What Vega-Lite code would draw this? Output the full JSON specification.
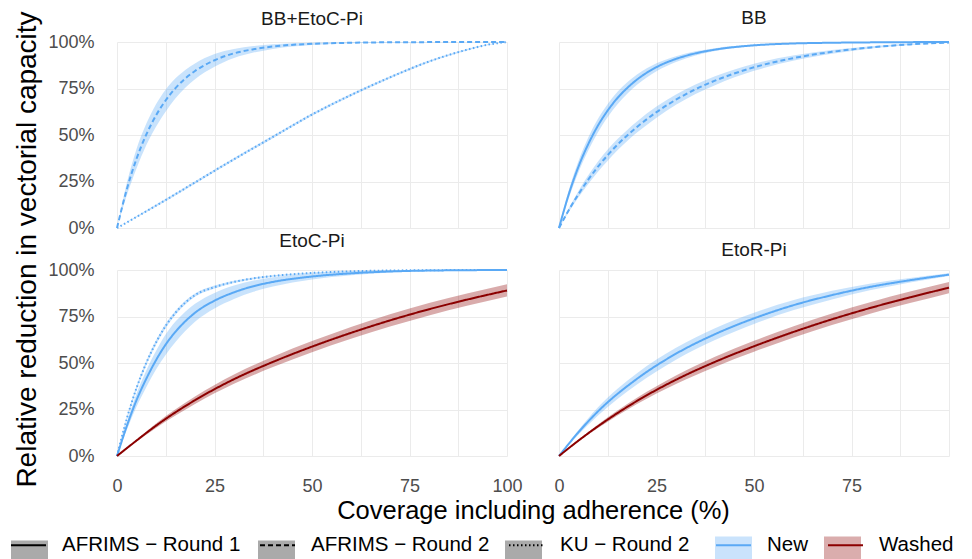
{
  "$schema": "https://vega.github.io/schema/vega-lite/v6.json",
  "padding": {"left": 10, "top": 9, "right": 22, "bottom": 0},
  "datasets": {
    "curves": [
      {"panel":"BB+EtoC-Pi","source":"AFRIMS − Round 2","wash":"New","x":0,"y":0,"lo":0,"hi":0},
      {"panel":"BB+EtoC-Pi","source":"AFRIMS − Round 2","wash":"New","x":2.5,"y":20.7,"lo":17.5,"hi":24},
      {"panel":"BB+EtoC-Pi","source":"AFRIMS − Round 2","wash":"New","x":5,"y":37.2,"lo":32,"hi":42.5},
      {"panel":"BB+EtoC-Pi","source":"AFRIMS − Round 2","wash":"New","x":7.5,"y":50.2,"lo":44.5,"hi":56},
      {"panel":"BB+EtoC-Pi","source":"AFRIMS − Round 2","wash":"New","x":10,"y":60.5,"lo":54.5,"hi":66.5},
      {"panel":"BB+EtoC-Pi","source":"AFRIMS − Round 2","wash":"New","x":12.5,"y":68.7,"lo":62.7,"hi":74.5},
      {"panel":"BB+EtoC-Pi","source":"AFRIMS − Round 2","wash":"New","x":15,"y":75.2,"lo":69.7,"hi":80.5},
      {"panel":"BB+EtoC-Pi","source":"AFRIMS − Round 2","wash":"New","x":17.5,"y":80.4,"lo":75.4,"hi":85},
      {"panel":"BB+EtoC-Pi","source":"AFRIMS − Round 2","wash":"New","x":20,"y":84.4,"lo":80,"hi":88.5},
      {"panel":"BB+EtoC-Pi","source":"AFRIMS − Round 2","wash":"New","x":25,"y":90.2,"lo":86.7,"hi":93.5},
      {"panel":"BB+EtoC-Pi","source":"AFRIMS − Round 2","wash":"New","x":30,"y":93.9,"lo":91.4,"hi":96.2},
      {"panel":"BB+EtoC-Pi","source":"AFRIMS − Round 2","wash":"New","x":35,"y":96.1,"lo":94.3,"hi":97.8},
      {"panel":"BB+EtoC-Pi","source":"AFRIMS − Round 2","wash":"New","x":40,"y":97.6,"lo":96.3,"hi":98.8},
      {"panel":"BB+EtoC-Pi","source":"AFRIMS − Round 2","wash":"New","x":50,"y":99,"lo":98.4,"hi":99.6},
      {"panel":"BB+EtoC-Pi","source":"AFRIMS − Round 2","wash":"New","x":60,"y":99.6,"lo":99.3,"hi":99.9},
      {"panel":"BB+EtoC-Pi","source":"AFRIMS − Round 2","wash":"New","x":70,"y":99.85,"lo":99.7,"hi":100},
      {"panel":"BB+EtoC-Pi","source":"AFRIMS − Round 2","wash":"New","x":80,"y":99.94,"lo":99.9,"hi":100},
      {"panel":"BB+EtoC-Pi","source":"AFRIMS − Round 2","wash":"New","x":100,"y":100,"lo":100,"hi":100},

      {"panel":"BB+EtoC-Pi","source":"KU − Round 2","wash":"New","x":0,"y":0,"lo":0,"hi":0},
      {"panel":"BB+EtoC-Pi","source":"KU − Round 2","wash":"New","x":10,"y":12,"lo":11.4,"hi":12.6},
      {"panel":"BB+EtoC-Pi","source":"KU − Round 2","wash":"New","x":20,"y":24.5,"lo":23.8,"hi":25.2},
      {"panel":"BB+EtoC-Pi","source":"KU − Round 2","wash":"New","x":30,"y":37,"lo":36.3,"hi":37.7},
      {"panel":"BB+EtoC-Pi","source":"KU − Round 2","wash":"New","x":40,"y":49,"lo":48.3,"hi":49.7},
      {"panel":"BB+EtoC-Pi","source":"KU − Round 2","wash":"New","x":50,"y":61,"lo":60.3,"hi":61.7},
      {"panel":"BB+EtoC-Pi","source":"KU − Round 2","wash":"New","x":60,"y":71.5,"lo":70.8,"hi":72.2},
      {"panel":"BB+EtoC-Pi","source":"KU − Round 2","wash":"New","x":70,"y":81,"lo":80.4,"hi":81.6},
      {"panel":"BB+EtoC-Pi","source":"KU − Round 2","wash":"New","x":80,"y":89.5,"lo":89,"hi":90},
      {"panel":"BB+EtoC-Pi","source":"KU − Round 2","wash":"New","x":90,"y":96,"lo":95.6,"hi":96.4},
      {"panel":"BB+EtoC-Pi","source":"KU − Round 2","wash":"New","x":95,"y":98.5,"lo":98.2,"hi":98.8},
      {"panel":"BB+EtoC-Pi","source":"KU − Round 2","wash":"New","x":100,"y":100,"lo":100,"hi":100},

      {"panel":"BB","source":"AFRIMS − Round 1","wash":"New","x":0,"y":0,"lo":0,"hi":0},
      {"panel":"BB","source":"AFRIMS − Round 1","wash":"New","x":2.5,"y":18.1,"lo":16,"hi":20.2},
      {"panel":"BB","source":"AFRIMS − Round 1","wash":"New","x":5,"y":33,"lo":30,"hi":36},
      {"panel":"BB","source":"AFRIMS − Round 1","wash":"New","x":7.5,"y":45.1,"lo":41.6,"hi":48.6},
      {"panel":"BB","source":"AFRIMS − Round 1","wash":"New","x":10,"y":55.1,"lo":51.5,"hi":58.7},
      {"panel":"BB","source":"AFRIMS − Round 1","wash":"New","x":12.5,"y":63.2,"lo":59.7,"hi":66.7},
      {"panel":"BB","source":"AFRIMS − Round 1","wash":"New","x":15,"y":69.9,"lo":66.5,"hi":73.2},
      {"panel":"BB","source":"AFRIMS − Round 1","wash":"New","x":17.5,"y":75.3,"lo":72.2,"hi":78.3},
      {"panel":"BB","source":"AFRIMS − Round 1","wash":"New","x":20,"y":79.8,"lo":77,"hi":82.5},
      {"panel":"BB","source":"AFRIMS − Round 1","wash":"New","x":25,"y":86.5,"lo":84.3,"hi":88.6},
      {"panel":"BB","source":"AFRIMS − Round 1","wash":"New","x":30,"y":90.9,"lo":89.3,"hi":92.4},
      {"panel":"BB","source":"AFRIMS − Round 1","wash":"New","x":35,"y":93.9,"lo":92.8,"hi":95},
      {"panel":"BB","source":"AFRIMS − Round 1","wash":"New","x":40,"y":95.9,"lo":95.1,"hi":96.7},
      {"panel":"BB","source":"AFRIMS − Round 1","wash":"New","x":50,"y":98.2,"lo":97.8,"hi":98.6},
      {"panel":"BB","source":"AFRIMS − Round 1","wash":"New","x":60,"y":99.2,"lo":99,"hi":99.4},
      {"panel":"BB","source":"AFRIMS − Round 1","wash":"New","x":70,"y":99.6,"lo":99.5,"hi":99.7},
      {"panel":"BB","source":"AFRIMS − Round 1","wash":"New","x":80,"y":99.8,"lo":99.75,"hi":99.9},
      {"panel":"BB","source":"AFRIMS − Round 1","wash":"New","x":100,"y":100,"lo":100,"hi":100},

      {"panel":"BB","source":"AFRIMS − Round 2","wash":"New","x":0,"y":0,"lo":0,"hi":0},
      {"panel":"BB","source":"AFRIMS − Round 2","wash":"New","x":2.5,"y":9.6,"lo":8.6,"hi":10.6},
      {"panel":"BB","source":"AFRIMS − Round 2","wash":"New","x":5,"y":18.2,"lo":16.5,"hi":19.9},
      {"panel":"BB","source":"AFRIMS − Round 2","wash":"New","x":7.5,"y":26,"lo":23.7,"hi":28.3},
      {"panel":"BB","source":"AFRIMS − Round 2","wash":"New","x":10,"y":33,"lo":30.3,"hi":35.7},
      {"panel":"BB","source":"AFRIMS − Round 2","wash":"New","x":12.5,"y":39.2,"lo":36.2,"hi":42.2},
      {"panel":"BB","source":"AFRIMS − Round 2","wash":"New","x":15,"y":44.8,"lo":41.8,"hi":47.8},
      {"panel":"BB","source":"AFRIMS − Round 2","wash":"New","x":20,"y":54.3,"lo":51.3,"hi":57.3},
      {"panel":"BB","source":"AFRIMS − Round 2","wash":"New","x":25,"y":62.3,"lo":59.3,"hi":65.3},
      {"panel":"BB","source":"AFRIMS − Round 2","wash":"New","x":30,"y":69,"lo":66.2,"hi":71.8},
      {"panel":"BB","source":"AFRIMS − Round 2","wash":"New","x":35,"y":74.6,"lo":72,"hi":77.2},
      {"panel":"BB","source":"AFRIMS − Round 2","wash":"New","x":40,"y":79.2,"lo":76.8,"hi":81.6},
      {"panel":"BB","source":"AFRIMS − Round 2","wash":"New","x":50,"y":86.4,"lo":84.5,"hi":88.3},
      {"panel":"BB","source":"AFRIMS − Round 2","wash":"New","x":60,"y":91.3,"lo":89.9,"hi":92.7},
      {"panel":"BB","source":"AFRIMS − Round 2","wash":"New","x":70,"y":94.7,"lo":93.7,"hi":95.7},
      {"panel":"BB","source":"AFRIMS − Round 2","wash":"New","x":80,"y":97.1,"lo":96.5,"hi":97.7},
      {"panel":"BB","source":"AFRIMS − Round 2","wash":"New","x":90,"y":98.7,"lo":98.4,"hi":99},
      {"panel":"BB","source":"AFRIMS − Round 2","wash":"New","x":100,"y":99.7,"lo":99.6,"hi":99.8},

      {"panel":"EtoC-Pi","source":"AFRIMS − Round 1","wash":"New","x":0,"y":0,"lo":0,"hi":0},
      {"panel":"EtoC-Pi","source":"AFRIMS − Round 1","wash":"New","x":2.5,"y":16,"lo":14,"hi":18},
      {"panel":"EtoC-Pi","source":"AFRIMS − Round 1","wash":"New","x":5,"y":30,"lo":26.5,"hi":33.5},
      {"panel":"EtoC-Pi","source":"AFRIMS − Round 1","wash":"New","x":7.5,"y":41.5,"lo":37,"hi":46},
      {"panel":"EtoC-Pi","source":"AFRIMS − Round 1","wash":"New","x":10,"y":51.5,"lo":46.5,"hi":56.5},
      {"panel":"EtoC-Pi","source":"AFRIMS − Round 1","wash":"New","x":12.5,"y":60,"lo":54.5,"hi":65.5},
      {"panel":"EtoC-Pi","source":"AFRIMS − Round 1","wash":"New","x":15,"y":66.8,"lo":61.3,"hi":72.3},
      {"panel":"EtoC-Pi","source":"AFRIMS − Round 1","wash":"New","x":17.5,"y":72.4,"lo":67.2,"hi":77.6},
      {"panel":"EtoC-Pi","source":"AFRIMS − Round 1","wash":"New","x":20,"y":77,"lo":72.2,"hi":81.8},
      {"panel":"EtoC-Pi","source":"AFRIMS − Round 1","wash":"New","x":25,"y":83.5,"lo":79.3,"hi":87.7},
      {"panel":"EtoC-Pi","source":"AFRIMS − Round 1","wash":"New","x":30,"y":88,"lo":84.4,"hi":91.6},
      {"panel":"EtoC-Pi","source":"AFRIMS − Round 1","wash":"New","x":35,"y":91.3,"lo":88.3,"hi":94.3},
      {"panel":"EtoC-Pi","source":"AFRIMS − Round 1","wash":"New","x":40,"y":93.6,"lo":91.1,"hi":96.1},
      {"panel":"EtoC-Pi","source":"AFRIMS − Round 1","wash":"New","x":50,"y":96.5,"lo":94.9,"hi":98.1},
      {"panel":"EtoC-Pi","source":"AFRIMS − Round 1","wash":"New","x":60,"y":98.2,"lo":97.2,"hi":99.2},
      {"panel":"EtoC-Pi","source":"AFRIMS − Round 1","wash":"New","x":70,"y":99.2,"lo":98.7,"hi":99.7},
      {"panel":"EtoC-Pi","source":"AFRIMS − Round 1","wash":"New","x":80,"y":99.7,"lo":99.4,"hi":100},
      {"panel":"EtoC-Pi","source":"AFRIMS − Round 1","wash":"New","x":100,"y":100,"lo":100,"hi":100},

      {"panel":"EtoC-Pi","source":"KU − Round 2","wash":"New","x":0,"y":0,"lo":0,"hi":0},
      {"panel":"EtoC-Pi","source":"KU − Round 2","wash":"New","x":2.5,"y":20,"lo":19,"hi":21},
      {"panel":"EtoC-Pi","source":"KU − Round 2","wash":"New","x":5,"y":36.5,"lo":35.3,"hi":37.7},
      {"panel":"EtoC-Pi","source":"KU − Round 2","wash":"New","x":7.5,"y":50,"lo":48.8,"hi":51.2},
      {"panel":"EtoC-Pi","source":"KU − Round 2","wash":"New","x":10,"y":61,"lo":59.8,"hi":62.2},
      {"panel":"EtoC-Pi","source":"KU − Round 2","wash":"New","x":12.5,"y":70,"lo":68.8,"hi":71.2},
      {"panel":"EtoC-Pi","source":"KU − Round 2","wash":"New","x":15,"y":77,"lo":75.9,"hi":78.1},
      {"panel":"EtoC-Pi","source":"KU − Round 2","wash":"New","x":17.5,"y":82.5,"lo":81.5,"hi":83.5},
      {"panel":"EtoC-Pi","source":"KU − Round 2","wash":"New","x":20,"y":86.5,"lo":85.6,"hi":87.4},
      {"panel":"EtoC-Pi","source":"KU − Round 2","wash":"New","x":25,"y":90.8,"lo":90,"hi":91.6},
      {"panel":"EtoC-Pi","source":"KU − Round 2","wash":"New","x":30,"y":93.6,"lo":93,"hi":94.2},
      {"panel":"EtoC-Pi","source":"KU − Round 2","wash":"New","x":35,"y":95.5,"lo":95,"hi":96},
      {"panel":"EtoC-Pi","source":"KU − Round 2","wash":"New","x":40,"y":96.8,"lo":96.4,"hi":97.2},
      {"panel":"EtoC-Pi","source":"KU − Round 2","wash":"New","x":50,"y":98.4,"lo":98.1,"hi":98.7},
      {"panel":"EtoC-Pi","source":"KU − Round 2","wash":"New","x":60,"y":99.3,"lo":99.1,"hi":99.5},
      {"panel":"EtoC-Pi","source":"KU − Round 2","wash":"New","x":80,"y":99.9,"lo":99.8,"hi":100},
      {"panel":"EtoC-Pi","source":"KU − Round 2","wash":"New","x":100,"y":100,"lo":100,"hi":100},

      {"panel":"EtoC-Pi","source":"AFRIMS − Round 1","wash":"Washed","x":0,"y":0,"lo":0,"hi":0},
      {"panel":"EtoC-Pi","source":"AFRIMS − Round 1","wash":"Washed","x":5,"y":8.3,"lo":7.8,"hi":8.8},
      {"panel":"EtoC-Pi","source":"AFRIMS − Round 1","wash":"Washed","x":10,"y":16.3,"lo":15.1,"hi":17.5},
      {"panel":"EtoC-Pi","source":"AFRIMS − Round 1","wash":"Washed","x":20,"y":30,"lo":28,"hi":32},
      {"panel":"EtoC-Pi","source":"AFRIMS − Round 1","wash":"Washed","x":30,"y":41.3,"lo":38.8,"hi":43.8},
      {"panel":"EtoC-Pi","source":"AFRIMS − Round 1","wash":"Washed","x":40,"y":50.6,"lo":47.8,"hi":53.4},
      {"panel":"EtoC-Pi","source":"AFRIMS − Round 1","wash":"Washed","x":50,"y":58.8,"lo":55.8,"hi":61.8},
      {"panel":"EtoC-Pi","source":"AFRIMS − Round 1","wash":"Washed","x":60,"y":66.2,"lo":63,"hi":69.4},
      {"panel":"EtoC-Pi","source":"AFRIMS − Round 1","wash":"Washed","x":70,"y":72.9,"lo":69.6,"hi":76.2},
      {"panel":"EtoC-Pi","source":"AFRIMS − Round 1","wash":"Washed","x":80,"y":78.9,"lo":75.6,"hi":82.2},
      {"panel":"EtoC-Pi","source":"AFRIMS − Round 1","wash":"Washed","x":90,"y":84.2,"lo":80.9,"hi":87.5},
      {"panel":"EtoC-Pi","source":"AFRIMS − Round 1","wash":"Washed","x":100,"y":89,"lo":85.7,"hi":92.3},

      {"panel":"EtoR-Pi","source":"AFRIMS − Round 1","wash":"New","x":0,"y":0,"lo":0,"hi":0},
      {"panel":"EtoR-Pi","source":"AFRIMS − Round 1","wash":"New","x":5,"y":12.8,"lo":11.6,"hi":14},
      {"panel":"EtoR-Pi","source":"AFRIMS − Round 1","wash":"New","x":10,"y":24,"lo":21.8,"hi":26.2},
      {"panel":"EtoR-Pi","source":"AFRIMS − Round 1","wash":"New","x":20,"y":41.5,"lo":38.5,"hi":44.5},
      {"panel":"EtoR-Pi","source":"AFRIMS − Round 1","wash":"New","x":30,"y":55,"lo":51.8,"hi":58.2},
      {"panel":"EtoR-Pi","source":"AFRIMS − Round 1","wash":"New","x":40,"y":65.5,"lo":62.3,"hi":68.7},
      {"panel":"EtoR-Pi","source":"AFRIMS − Round 1","wash":"New","x":50,"y":74,"lo":71,"hi":77},
      {"panel":"EtoR-Pi","source":"AFRIMS − Round 1","wash":"New","x":60,"y":81,"lo":78.3,"hi":83.7},
      {"panel":"EtoR-Pi","source":"AFRIMS − Round 1","wash":"New","x":70,"y":86.5,"lo":84.2,"hi":88.8},
      {"panel":"EtoR-Pi","source":"AFRIMS − Round 1","wash":"New","x":80,"y":91,"lo":89.2,"hi":92.8},
      {"panel":"EtoR-Pi","source":"AFRIMS − Round 1","wash":"New","x":90,"y":94.5,"lo":93.3,"hi":95.7},
      {"panel":"EtoR-Pi","source":"AFRIMS − Round 1","wash":"New","x":100,"y":97.5,"lo":96.8,"hi":98.2},

      {"panel":"EtoR-Pi","source":"AFRIMS − Round 1","wash":"Washed","x":0,"y":0,"lo":0,"hi":0},
      {"panel":"EtoR-Pi","source":"AFRIMS − Round 1","wash":"Washed","x":5,"y":8.3,"lo":7.8,"hi":8.8},
      {"panel":"EtoR-Pi","source":"AFRIMS − Round 1","wash":"Washed","x":10,"y":16,"lo":15,"hi":17},
      {"panel":"EtoR-Pi","source":"AFRIMS − Round 1","wash":"Washed","x":20,"y":29.6,"lo":27.9,"hi":31.3},
      {"panel":"EtoR-Pi","source":"AFRIMS − Round 1","wash":"Washed","x":30,"y":41,"lo":38.7,"hi":43.3},
      {"panel":"EtoR-Pi","source":"AFRIMS − Round 1","wash":"Washed","x":40,"y":50.6,"lo":47.9,"hi":53.3},
      {"panel":"EtoR-Pi","source":"AFRIMS − Round 1","wash":"Washed","x":50,"y":59,"lo":56,"hi":62},
      {"panel":"EtoR-Pi","source":"AFRIMS − Round 1","wash":"Washed","x":60,"y":66.6,"lo":63.6,"hi":69.6},
      {"panel":"EtoR-Pi","source":"AFRIMS − Round 1","wash":"Washed","x":70,"y":73.5,"lo":70.4,"hi":76.6},
      {"panel":"EtoR-Pi","source":"AFRIMS − Round 1","wash":"Washed","x":80,"y":79.7,"lo":76.6,"hi":82.8},
      {"panel":"EtoR-Pi","source":"AFRIMS − Round 1","wash":"Washed","x":90,"y":85.3,"lo":82.2,"hi":88.4},
      {"panel":"EtoR-Pi","source":"AFRIMS − Round 1","wash":"Washed","x":100,"y":90.5,"lo":87.5,"hi":93.5}
    ]
  },
  "data": {"name": "curves"},
  "columns": 2,
  "spacing": {"row": 42, "column": 52},
  "bounds": "flush",
  "concat": [
    {
      "title": {"text": "BB+EtoC-Pi", "dy": 28},
      "width": 390, "height": 186,
      "transform": [{"filter": "datum.panel === 'BB+EtoC-Pi'"}],
      "encoding": {
        "x": {"field": "x", "type": "quantitative", "scale": {"domain": [0, 100], "nice": false}, "title": null,
              "axis": {"values": [0, 12.5, 25, 37.5, 50, 62.5, 75, 87.5, 100], "labels": false}}
      },
      "layer": [
        {"mark": {"type": "area", "interpolate": "monotone"},
         "encoding": {
           "y": {"field": "lo", "type": "quantitative", "scale": {"domain": [0, 100], "nice": false},
                 "title": "Relative reduction in vectorial capacity",
                 "axis": {"values": [0, 12.5, 25, 37.5, 50, 62.5, 75, 87.5, 100], "labelExpr": "datum.value % 25 == 0 ? datum.value + '%' : ''", "titleY": 207}},
           "y2": {"field": "hi"},
           "fill": {"field": "wash", "type": "nominal", "scale": {"domain": ["New", "Washed"], "range": ["#5aa9f5", "#8b0000"]},
             "legend": {"title": null, "orient": "none", "legendX": 598, "legendY": 494, "labelOpacity": 0, "columnPadding": 15,
               "symbolType": "M-1,-0.84H1V0.84H-1Z", "symbolSize": 1369,
               "encode": {"symbols": {"update": {"x": {"value": 18.5}, "y": {"value": 15.5}, "fill": {"scale": "fill", "field": "value"}, "fillOpacity": {"value": 0.32}, "opacity": {"value": 1}, "strokeWidth": {"value": 0}}},
                          "labels": {"update": {"x": {"value": 52}, "y": {"value": 9}, "baseline": {"value": "middle"}}}}}},
           "opacity": {"field": "source", "type": "ordinal", "scale": {"domain": ["AFRIMS − Round 1", "AFRIMS − Round 2", "KU − Round 2"], "range": [0.33, 0.33]},
             "legend": {"title": null, "orient": "none", "legendX": -107, "legendY": 494, "labelOpacity": 0, "columnPadding": 23,
               "symbolType": "M-1,-0.84H1V0.84H-1Z", "symbolSize": 1369,
               "encode": {"symbols": {"update": {"x": {"value": 18.5}, "y": {"value": 15.5}, "fill": {"value": "#c6c6c6"}, "fillOpacity": {"value": 1}, "opacity": {"value": 1}, "strokeWidth": {"value": 0}}},
                          "labels": {"update": {"x": {"value": 52}, "y": {"value": 9}, "baseline": {"value": "middle"}}}}}}
         }},
        {"mark": {"type": "line", "strokeWidth": 2, "interpolate": "monotone"},
         "encoding": {
           "y": {"field": "y", "type": "quantitative"},
           "stroke": {"field": "wash", "type": "nominal", "scale": {"range": ["#5aa9f5", "#8b0000"]},
             "legend": {"title": null, "orient": "none", "legendX": 598, "legendY": 494, "symbolType": "stroke", "symbolSize": 1225, "columnPadding": 15,
               "encode": {
                 "symbols": {"update": {"x": {"value": 18.5}, "y": {"value": 9}, "stroke": {"scale": "stroke", "field": "value"}, "strokeWidth": {"value": 2}, "fill": {"value": "transparent"}}},
                 "labels": {"update": {"x": {"value": 52}, "y": {"value": 9}, "baseline": {"value": "middle"}}}
               }}},
           "strokeDash": {"field": "source", "type": "nominal",
             "scale": {"range": [[1, 0], [5, 3], [1.5, 2.5]]},
             "legend": {"title": null, "orient": "none", "legendX": -107, "legendY": 494, "symbolType": "stroke", "symbolSize": 1225, "columnPadding": 15,
               "encode": {
                 "symbols": {"update": {"x": {"value": 18.5}, "y": {"value": 9}, "stroke": {"value": "#000000"}, "strokeWidth": {"value": 2}, "fill": {"value": "transparent"}}},
                 "labels": {"update": {"x": {"value": 52}, "y": {"value": 9}, "baseline": {"value": "middle"}}}
               }}}
         }}
      ]
    },
    {
      "title": "BB",
      "width": 390, "height": 186,
      "transform": [{"filter": "datum.panel === 'BB'"}],
      "encoding": {
        "x": {"field": "x", "type": "quantitative", "scale": {"domain": [0, 100], "nice": false}, "title": null,
              "axis": {"values": [0, 12.5, 25, 37.5, 50, 62.5, 75, 87.5, 100], "labels": false}}
      },
      "layer": [
        {"mark": {"type": "area", "interpolate": "monotone"},
         "encoding": {
           "y": {"field": "lo", "type": "quantitative", "scale": {"domain": [0, 100], "nice": false}, "title": null,
                 "axis": {"values": [0, 12.5, 25, 37.5, 50, 62.5, 75, 87.5, 100], "labels": false}},
           "y2": {"field": "hi"},
           "fill": {"field": "wash", "type": "nominal", "scale": {"domain": ["New", "Washed"], "range": ["#5aa9f5", "#8b0000"]}},
           "opacity": {"field": "source", "type": "ordinal", "scale": {"domain": ["AFRIMS − Round 1", "AFRIMS − Round 2", "KU − Round 2"], "range": [0.33, 0.33]}}
         }},
        {"mark": {"type": "line", "strokeWidth": 2, "interpolate": "monotone"},
         "encoding": {
           "y": {"field": "y", "type": "quantitative"},
           "stroke": {"field": "wash", "type": "nominal", "scale": {"range": ["#5aa9f5", "#8b0000"]}},
           "strokeDash": {"field": "source", "type": "nominal", "scale": {"range": [[1, 0], [5, 3], [1.5, 2.5]]}}
         }}
      ]
    },
    {
      "title": "EtoC-Pi",
      "width": 390, "height": 186,
      "transform": [{"filter": "datum.panel === 'EtoC-Pi'"}],
      "encoding": {
        "x": {"field": "x", "type": "quantitative", "scale": {"domain": [0, 100], "nice": false},
              "title": "Coverage including adherence (%)",
              "axis": {"values": [0, 12.5, 25, 37.5, 50, 62.5, 75, 87.5, 100], "labelExpr": "datum.value % 25 == 0 ? datum.label : ''", "titleX": 416}}
      },
      "layer": [
        {"mark": {"type": "area", "interpolate": "monotone"},
         "encoding": {
           "y": {"field": "lo", "type": "quantitative", "scale": {"domain": [0, 100], "nice": false}, "title": null,
                 "axis": {"values": [0, 12.5, 25, 37.5, 50, 62.5, 75, 87.5, 100], "labelExpr": "datum.value % 25 == 0 ? datum.value + '%' : ''"}},
           "y2": {"field": "hi"},
           "fill": {"field": "wash", "type": "nominal", "scale": {"domain": ["New", "Washed"], "range": ["#5aa9f5", "#8b0000"]}},
           "opacity": {"field": "source", "type": "ordinal", "scale": {"domain": ["AFRIMS − Round 1", "AFRIMS − Round 2", "KU − Round 2"], "range": [0.33, 0.33]}}
         }},
        {"mark": {"type": "line", "strokeWidth": 2, "interpolate": "monotone"},
         "encoding": {
           "y": {"field": "y", "type": "quantitative"},
           "stroke": {"field": "wash", "type": "nominal", "scale": {"range": ["#5aa9f5", "#8b0000"]}},
           "strokeDash": {"field": "source", "type": "nominal", "scale": {"range": [[1, 0], [5, 3], [1.5, 2.5]]}}
         }}
      ]
    },
    {
      "title": "EtoR-Pi",
      "width": 390, "height": 186,
      "transform": [{"filter": "datum.panel === 'EtoR-Pi'"}],
      "encoding": {
        "x": {"field": "x", "type": "quantitative", "scale": {"domain": [0, 100], "nice": false}, "title": null,
              "axis": {"values": [0, 12.5, 25, 37.5, 50, 62.5, 75, 87.5, 100], "labelExpr": "datum.value % 25 == 0 && datum.value < 100 ? datum.label : ''"}}
      },
      "layer": [
        {"mark": {"type": "area", "interpolate": "monotone"},
         "encoding": {
           "y": {"field": "lo", "type": "quantitative", "scale": {"domain": [0, 100], "nice": false}, "title": null,
                 "axis": {"values": [0, 12.5, 25, 37.5, 50, 62.5, 75, 87.5, 100], "labels": false}},
           "y2": {"field": "hi"},
           "fill": {"field": "wash", "type": "nominal", "scale": {"domain": ["New", "Washed"], "range": ["#5aa9f5", "#8b0000"]}},
           "opacity": {"field": "source", "type": "ordinal", "scale": {"domain": ["AFRIMS − Round 1", "AFRIMS − Round 2", "KU − Round 2"], "range": [0.33, 0.33]}}
         }},
        {"mark": {"type": "line", "strokeWidth": 2, "interpolate": "monotone"},
         "encoding": {
           "y": {"field": "y", "type": "quantitative"},
           "stroke": {"field": "wash", "type": "nominal", "scale": {"range": ["#5aa9f5", "#8b0000"]}},
           "strokeDash": {"field": "source", "type": "nominal", "scale": {"range": [[1, 0], [5, 3], [1.5, 2.5]]}}
         }}
      ]
    }
  ],
  "config": {
    "font": "Liberation Sans",
    "view": {"stroke": null},
    "title": {"fontSize": 19, "fontWeight": "normal", "color": "#1a1a1a", "offset": 10, "anchor": "middle"},
    "axis": {
      "domain": false, "ticks": false,
      "gridColor": "#ebebeb", "gridWidth": 1,
      "labelFontSize": 18, "labelColor": "#4d4d4d",
      "labelOverlap": false, "labelFlush": false, "labelPadding": 8,
      "titleFontWeight": "normal", "titleColor": "#000000"
    },
    "axisY": {"labelPadding": 23, "titlePadding": 6, "titleFontSize": 28},
    "axisX": {"labelPadding": 21, "titlePadding": 3, "titleFontSize": 25.5},
    "legend": {
      "direction": "horizontal",
      "labelFontSize": 20.5, "labelColor": "#000000", "labelLimit": 400,
      "padding": 0
    }
  }
}
